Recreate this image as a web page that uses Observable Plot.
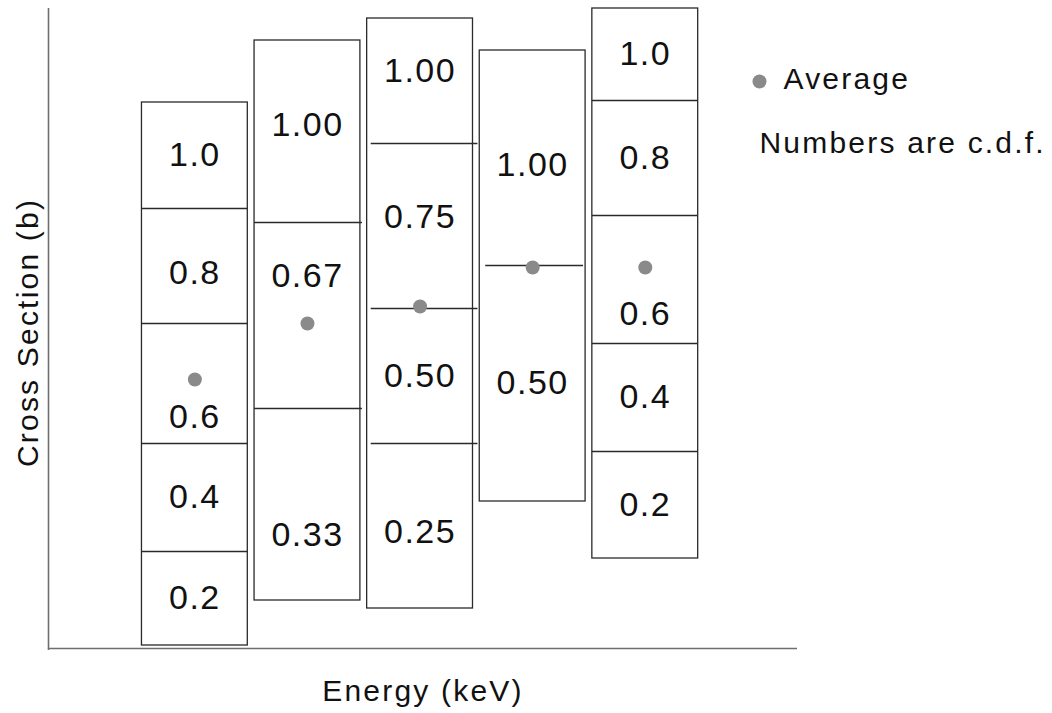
<!DOCTYPE html>
<html>
<head>
<meta charset="utf-8">
<script src="https://cdn.jsdelivr.net/npm/d3@7"></script>
<script src="https://cdn.jsdelivr.net/npm/@observablehq/plot@0.6"></script>
<style>
  html, body { margin: 0; padding: 0; background: #fff; }
  #chart svg { display: block; }
  #chart g[font-size="34"] text { letter-spacing: 1.5px; }
  #chart g[font-size="30"] text { letter-spacing: 2.2px; }
</style>
</head>
<body>
<div id="chart"></div>
<script>
// Energy bins along the horizontal axis
const bins = [1, 2, 3, 4, 5];

// Cross-section band edges in each energy bin, bottom to top (arbitrary units)
const edges1 = [0.03, 0.97, 2.05, 3.25, 4.40, 5.46];
const edges2 = [0.48, 2.40, 4.26, 6.08];
const edges3 = [0.40, 2.05, 3.40, 5.05, 6.30];
const edges4 = [1.47, 3.83, 5.98];
const edges5 = [0.90, 1.97, 3.05, 4.33, 5.48, 6.40];

// Cumulative probability written in each band, bottom to top
const cdf1 = ["0.2", "0.4", "0.6", "0.8", "1.0"];
const cdf2 = ["0.33", "0.67", "1.00"];
const cdf3 = ["0.25", "0.50", "0.75", "1.00"];
const cdf4 = ["0.50", "1.00"];
const cdf5 = ["0.2", "0.4", "0.6", "0.8", "1.0"];

// Average cross section in each energy bin
const averages = [2.69, 3.25, 3.42, 3.81, 3.81];

const edges = [edges1, edges2, edges3, edges4, edges5];
const cdfs = [cdf1, cdf2, cdf3, cdf4, cdf5];

// ---- layout / style ----
const halfWidth = 0.47;          // half width of a bin column, in x units
const xDomain = [-0.3, 6.352];
const yDomain = [0, 6.4];
// Divider line ends relative to the column edges (x units)
const dividerShift = {2: [0, 0.018], 3: [0.036, 0.044], 4: [0.053, -0.018]};
// Move a few labels off the band centre (y units) to leave room for the dot
const labelShift = {
  "1:0.6": -0.335, "1:0.8": -0.07,
  "2:0.33": -0.31, "2:0.67": 0.39, "2:1.00": 0.06,
  "3:0.25": -0.06, "3:0.75": 0.085, "3:1.00": 0.1,
  "4:1.00": -0.075, "5:0.6": -0.35
};

// Derived tables for the marks
const columns = bins.map((b, i) => ({
  bin: b, bottom: edges[i][0], top: edges[i][edges[i].length - 1]
}));
const dividers = bins.flatMap((b, i) => {
  const [l, r] = dividerShift[b] || [0, 0];
  return edges[i].slice(1, -1).map(y => ({
    y, x1: b - halfWidth + l, x2: b + halfWidth + r
  }));
});
const labels = bins.flatMap((b, i) =>
  cdfs[i].map((t, j) => ({
    bin: b,
    text: t,
    y: (edges[i][j] + edges[i][j + 1]) / 2 + (labelShift[`${b}:${t}`] || 0)
  }))
);
const avgs = bins.map((b, i) => ({bin: b, value: averages[i]}));

const font = "'Liberation Sans', Arial, Helvetica, sans-serif";

const chart = Plot.plot({
  width: 1052,
  height: 713,
  marginLeft: 48,
  marginRight: 255,
  marginTop: 8,
  marginBottom: 65,
  x: {domain: xDomain, axis: null},
  y: {domain: yDomain, axis: null},
  style: {fontFamily: font, background: "#fff", color: "#111"},
  marks: [
    // axes
    Plot.ruleX([xDomain[0]], {y1: -0.02, y2: yDomain[1], stroke: "#6e6e6e", strokeWidth: 1.6}),
    Plot.ruleY([0], {x1: xDomain[0], x2: xDomain[1], stroke: "#6e6e6e", strokeWidth: 1.6}),
    // bin columns
    Plot.rect(columns, {
      x1: d => d.bin - halfWidth, x2: d => d.bin + halfWidth,
      y1: "bottom", y2: "top",
      fill: "#fff", stroke: "#2a2a2a", strokeWidth: 1.3
    }),
    Plot.ruleY(dividers, {y: "y", x1: "x1", x2: "x2", stroke: "#2a2a2a", strokeWidth: 1.3}),
    // c.d.f. labels
    Plot.text(labels, {
      x: "bin", y: "y", text: "text",
      fontSize: 34, fill: "#111", textAnchor: "middle", lineAnchor: "middle"
    }),
    // averages
    Plot.dot(avgs, {x: "bin", y: "value", r: 7, fill: "#8a8a8a", stroke: "none"}),
    // legend
    Plot.dot([0], {frameAnchor: "top-left", dx: 711, dy: 73, r: 7, fill: "#8a8a8a", stroke: "none"}),
    Plot.text(["Average"], {
      frameAnchor: "top-left", dx: 735, dy: 80, textAnchor: "start",
      lineAnchor: "bottom", fontSize: 30, fill: "#111"
    }),
    Plot.text(["Numbers are c.d.f."], {
      frameAnchor: "top-left", dx: 711, dy: 144, textAnchor: "start",
      lineAnchor: "bottom", fontSize: 30, fill: "#111"
    }),
    // axis titles
    Plot.text(["Energy (keV)"], {
      frameAnchor: "bottom", dy: 52, textAnchor: "middle",
      lineAnchor: "bottom", fontSize: 30, fill: "#111"
    }),
    Plot.text(["Cross Section (b)"], {
      frameAnchor: "left", dx: -11, dy: 4, rotate: -90, textAnchor: "middle",
      lineAnchor: "bottom", fontSize: 30, fill: "#111"
    })
  ]
});

document.getElementById("chart").append(chart);
</script>
</body>
</html>
